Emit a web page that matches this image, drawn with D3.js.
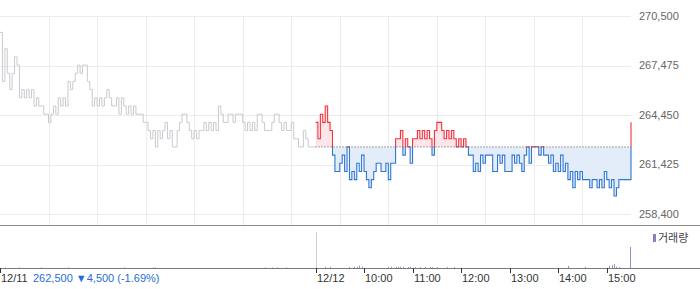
<!DOCTYPE html>
<html>
<head>
<meta charset="utf-8">
<script src="https://cdn.jsdelivr.net/npm/d3@7"></script>
<style>
  body { margin: 0; background: #fff; }
  svg { display: block; font-family: "Liberation Sans", Arial, "Noto Sans CJK KR", sans-serif; }
</style>
</head>
<body>
<svg width="700" height="289"></svg>
<script>
// 3-minute closing prices, 09:00 .. 15:30 (last value = close)
const day1Prices = [
  269500, 266500, 268500, 267000, 266000, 267000, 268000, 267500, 265500, 266000,
  265500, 266000, 265500, 266000, 265000, 265500, 265000, 265000, 264500, 264500,
  264000, 264500, 265000, 264500, 265500, 265000, 265500, 265000, 266500, 266000,
  266500, 267000, 267500, 267000, 267500, 267500, 266500, 266000, 265000, 265500,
  265000, 265500, 265000, 265500, 266000, 265500, 265000, 265000, 265500, 264500,
  265500, 265000, 264500, 265000, 264500, 265000, 264500, 264500, 264500, 264000,
  264000, 263500, 263000, 263500, 262500, 263500, 263000, 263500, 264000, 263000,
  263500, 262500, 262500, 263500, 264000, 264500, 264500, 264000, 263500, 263000,
  263500, 263000, 263500, 263500, 264000, 263500, 264000, 263500, 264000, 263500,
  265000, 264500, 264000, 264000, 264500, 264500, 264000, 264500, 264500, 264500,
  264000, 263500, 264000, 263500, 264000, 263500, 264500, 264500, 264000, 263500,
  263500, 263500, 264000, 264500, 264500, 264000, 263500, 264000, 263500, 263500,
  264000, 263000, 263000, 262500, 262500, 263500, 263000, 262500, 262500, 262500,
  262500
];
const day2Prices = [
  264000, 263000, 264500, 264000, 265000, 264000, 263500, 262000, 261000, 261000,
  261500, 262000, 261000, 262500, 260500, 261000, 260500, 261500, 261000, 262000,
  261000, 260500, 260000, 260500, 261000, 261500, 261500, 261000, 261000, 261500,
  260500, 261500, 261500, 263000, 263000, 263500, 262000, 263000, 262500, 261500,
  263000, 263000, 263500, 263000, 263500, 263000, 263500, 263000, 262000, 263500,
  264000, 264000, 263500, 263000, 263500, 263000, 263500, 263000, 262500, 263000,
  262500, 263000, 262500, 262000, 262000, 261000, 261500, 261000, 262000, 261500,
  262000, 262000, 262000, 261000, 261000, 262000, 261500, 262000, 261000, 261000,
  261000, 262000, 261500, 262000, 261500, 261000, 262000, 262500, 261500, 262500,
  262500, 262500, 262000, 262500, 262000, 262000, 261500, 262000, 261000, 261500,
  261000, 262000, 261000, 261500, 260500, 261000, 260000, 261000, 260500, 261000,
  260500, 260500, 260500, 260000, 260500, 260500, 260000, 260500, 260000, 261000,
  260500, 260000, 260500, 259500, 260000, 260500, 260500, 260500, 260500, 260500,
  264000
];
const prevClose = 262500;
const yTicks = [258400, 261425, 264450, 267475, 270500];
const dayLabels = ["12/11", "12/12"];
const hourLabels = ["10:00", "11:00", "12:00", "13:00", "14:00", "15:00"];
const changeText = "262,500 \u25BC4,500 (-1.69%)";

// volume (thousand shares), by 3-minute slot
const vol1Slots = [2, 8, 17, 28, 51, 63, 64, 109, 112, 114, 118];
const vol1Values = [1, 1, 1, 1, 1, 1, 1, 1, 1, 1, 1];
const vol2Slots = [4, 6, 14, 16, 17, 18, 19, 30, 31, 33, 34, 35, 36, 38, 39, 41, 43, 45, 47, 48, 50, 54, 57, 104, 111, 121, 122, 123, 124, 125, 130];
const vol2Values = [2, 2, 1.5, 2, 2, 4, 2, 2, 2, 1.5, 2, 2, 2, 1.5, 2, 1.5, 1.5, 1.5, 1.5, 1.5, 1.5, 1.5, 1.5, 3.5, 2, 3.5, 5, 6.5, 2, 1.5, 35];

const svg = d3.select("svg");
const plotRight = 631;
const slot = 3;

const x = d3.scaleLinear().domain([0, 780]).range([0, plotRight]);
const y = d3.scaleLinear().domain([258400, 270500]).range([214, 16]);
const yVol = d3.scaleLinear().domain([0, 60]).range([268, 232]);

const day1 = day1Prices.map((p, i) => ({ t: i * slot, p }));
const day2 = day2Prices.map((p, i) => ({ t: 390 + i * slot, p }));

// grid
const grid = svg.append("g").attr("stroke", "#ececec").attr("shape-rendering", "crispEdges");
grid.selectAll(".h").data(yTicks).enter().append("line")
  .attr("x1", 0).attr("x2", plotRight)
  .attr("y1", d => Math.round(y(d)) + 0.5).attr("y2", d => Math.round(y(d)) + 0.5);
grid.selectAll(".v").data(d3.range(60, 780, 60)).enter().append("line")
  .attr("x1", d => Math.round(x(d)) + 0.5).attr("x2", d => Math.round(x(d)) + 0.5)
  .attr("y1", 16).attr("y2", 225);

// y axis labels
svg.append("g").selectAll("text").data(yTicks).enter().append("text")
  .attr("x", 639).attr("y", d => y(d))
  .attr("dy", "0.35em")
  .attr("font-size", 11).attr("fill", "#666")
  .text(d => d3.format(",")(d));

const line = d3.line().x(d => x(d.t)).y(d => y(d.p)).curve(d3.curveStepAfter);
const area = d3.area().x(d => x(d.t)).y0(y(prevClose)).y1(d => y(d.p)).curve(d3.curveStepAfter);

// day 1 (grey)
svg.append("path").datum(day1)
  .attr("d", line).attr("fill", "none")
  .attr("stroke", "#c9cacf").attr("stroke-width", 1);

// day 2 split on previous close
const defs = svg.append("defs");
defs.append("clipPath").attr("id", "above").append("rect")
  .attr("x", x(390)).attr("y", 0).attr("width", plotRight - x(390) + 2).attr("height", y(prevClose));
defs.append("clipPath").attr("id", "below").append("rect")
  .attr("x", x(390)).attr("y", y(prevClose)).attr("width", plotRight - x(390) + 2).attr("height", 225 - y(prevClose));

const parts = [
  { clip: "above", fill: "#fde6e9", stroke: "#f5303a" },
  { clip: "below", fill: "#e3ecf9", stroke: "#2f76d6" }
];
parts.forEach(s => {
  const g = svg.append("g").attr("clip-path", `url(#${s.clip})`);
  g.append("path").datum(day2).attr("d", area).attr("fill", s.fill);
  g.append("path").datum(day2).attr("d", line).attr("fill", "none")
    .attr("stroke", s.stroke).attr("stroke-width", 1.1);
});

svg.append("line")
  .attr("x1", x(390)).attr("x2", plotRight)
  .attr("y1", y(prevClose)).attr("y2", y(prevClose))
  .attr("stroke", "#555").attr("stroke-dasharray", "1,2");

// panel borders
svg.append("line").attr("x1", 0).attr("x2", 700).attr("y1", 225.5).attr("y2", 225.5)
  .attr("stroke", "#8a8a8a");
svg.append("line").attr("x1", 0).attr("x2", 700).attr("y1", 268.5).attr("y2", 268.5)
  .attr("stroke", "#7a7a7a");

// volume
svg.append("line").attr("x1", Math.round(x(390)) + 0.5).attr("x2", Math.round(x(390)) + 0.5)
  .attr("y1", 232).attr("y2", 268).attr("stroke", "#d0d0d0");
svg.append("g").selectAll("rect").data(vol1Slots).enter().append("rect")
  .attr("x", d => Math.round(x(d * slot)))
  .attr("y", (d, i) => yVol(vol1Values[i]) - 0.5)
  .attr("width", 1)
  .attr("height", (d, i) => 268 - yVol(vol1Values[i]) + 0.5)
  .attr("fill", "#c8c8cc");
svg.append("g").selectAll("rect").data(vol2Slots).enter().append("rect")
  .attr("x", d => Math.round(x(390 + d * slot)) - (d === 130 ? 1 : 0))
  .attr("y", (d, i) => yVol(vol2Values[i]))
  .attr("width", 1)
  .attr("height", (d, i) => 268 - yVol(vol2Values[i]))
  .attr("fill", "#9b8bcb");

// legend
svg.append("rect").attr("x", 653).attr("y", 234).attr("width", 3).attr("height", 8).attr("fill", "#8e7cc3");
svg.append("text").attr("x", 658).attr("y", 242).attr("font-size", 11).attr("fill", "#444").text("거래량");

// x axis
const dayTicks = [0, 390];
const hourTicks = d3.range(450, 780, 60);
svg.append("g").selectAll("line").data(dayTicks.concat(hourTicks)).enter().append("line")
  .attr("x1", d => Math.round(x(d)) + 0.5).attr("x2", d => Math.round(x(d)) + 0.5)
  .attr("y1", 268).attr("y2", 273)
  .attr("stroke", "#333");
svg.append("g").selectAll("text").data(dayTicks).enter().append("text")
  .attr("x", d => Math.round(x(d)) + 1).attr("y", 282)
  .attr("font-size", 11).attr("fill", "#333")
  .text((d, i) => dayLabels[i]);
svg.append("g").selectAll("text").data(hourTicks).enter().append("text")
  .attr("x", d => Math.round(x(d)) + 1).attr("y", 282)
  .attr("font-size", 11).attr("fill", "#333")
  .text((d, i) => hourLabels[i]);
svg.append("text").attr("x", 33).attr("y", 282)
  .attr("font-size", 11).attr("fill", "#1f6fd8")
  .text(changeText);
</script>
</body>
</html>
